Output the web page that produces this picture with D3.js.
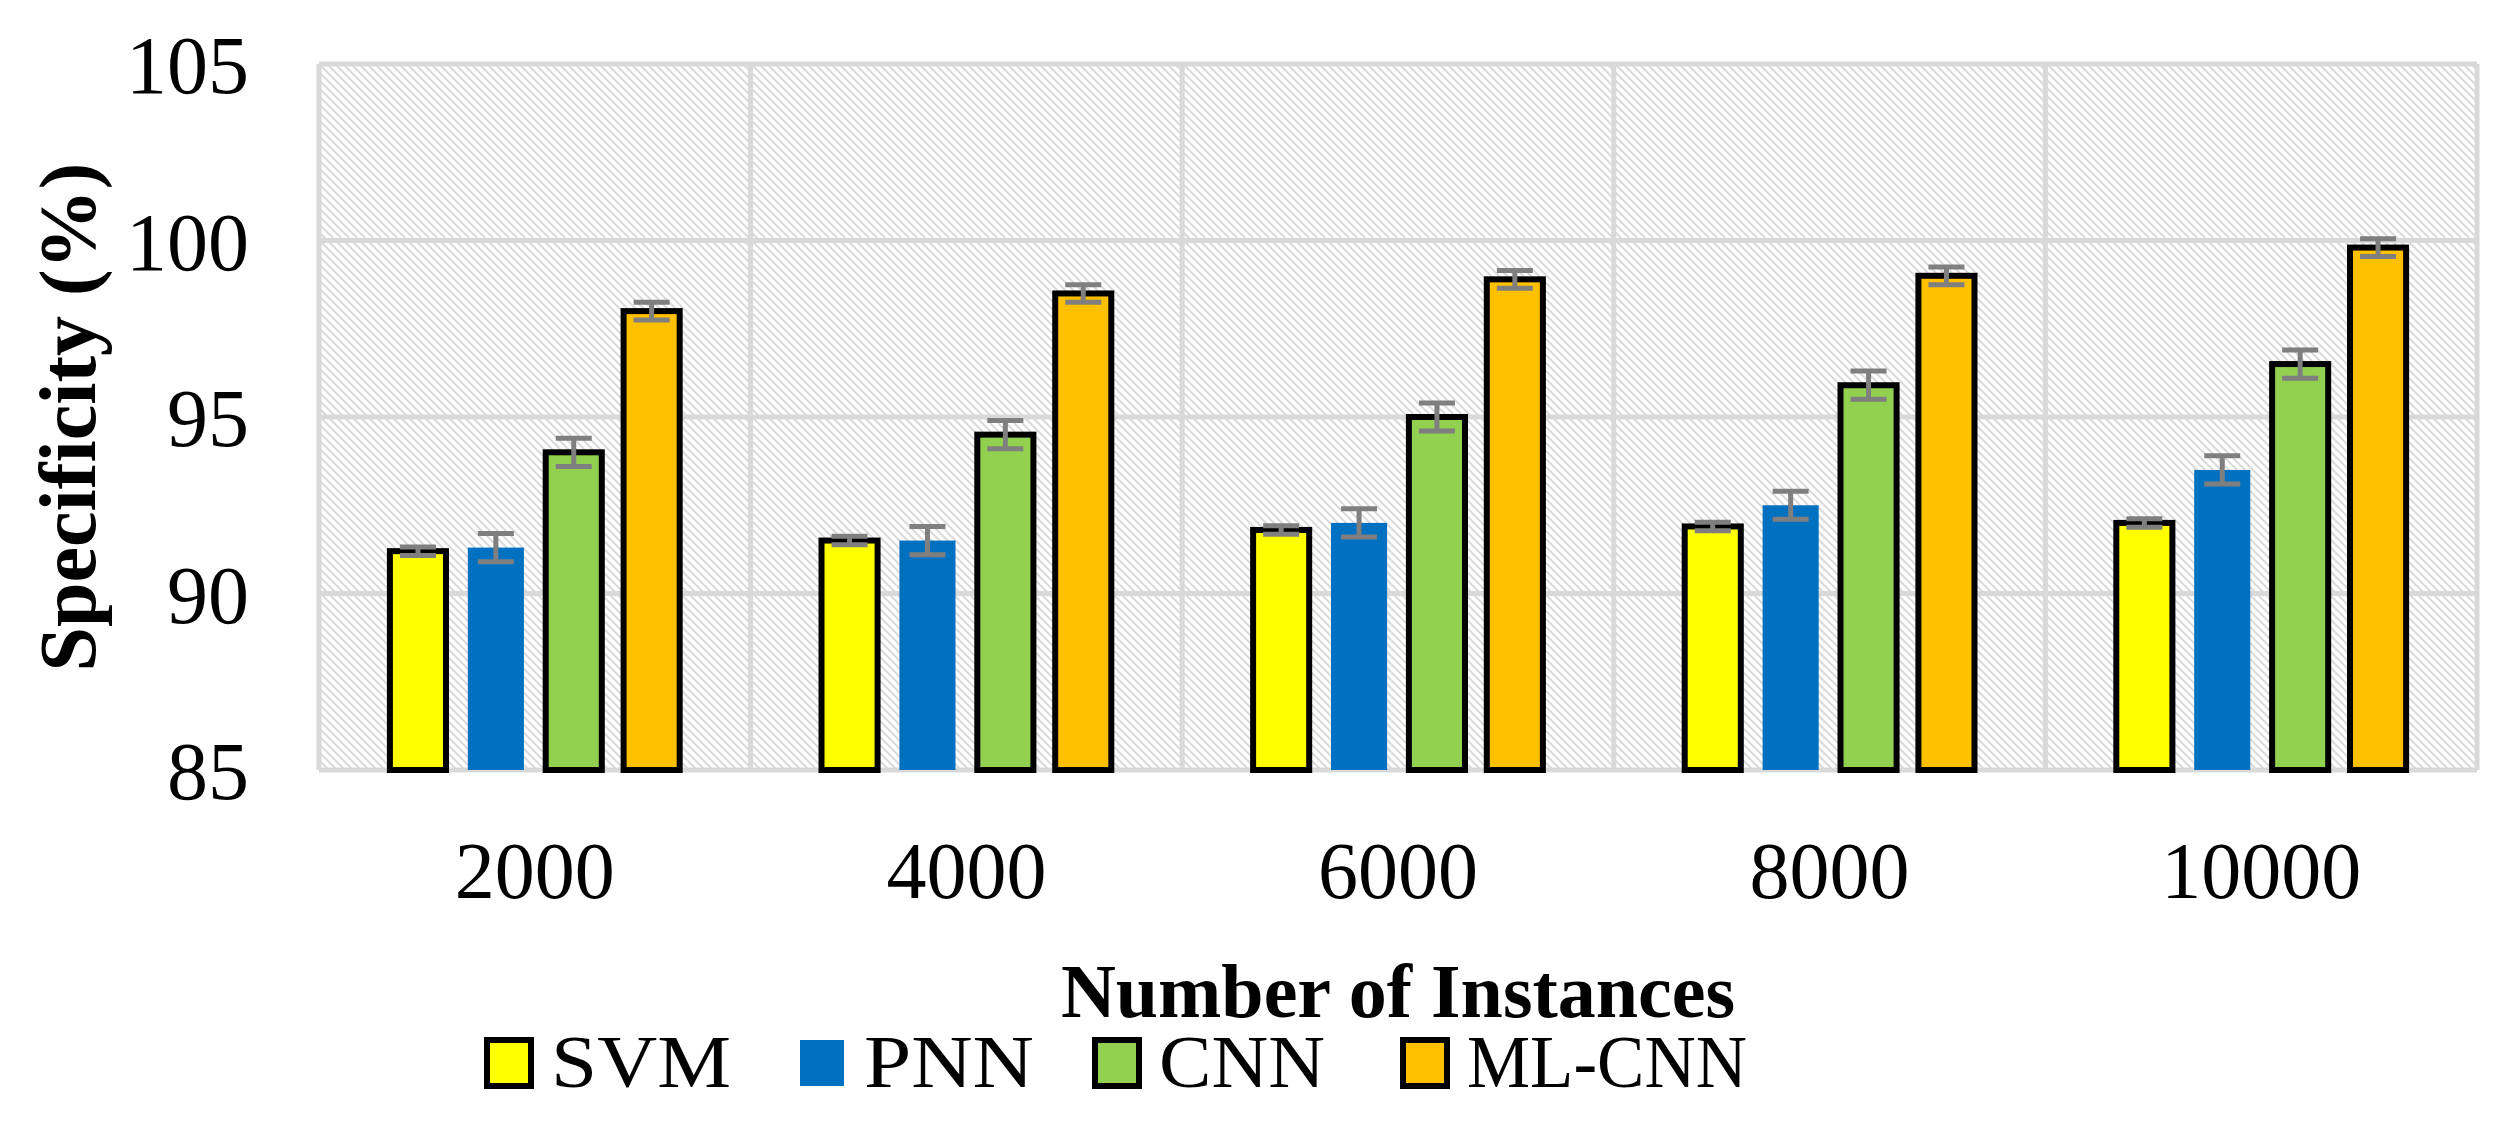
<!DOCTYPE html>
<html>
<head>
<meta charset="utf-8">
<script src="https://cdn.jsdelivr.net/npm/d3@7"></script>
<style>
  body { margin: 0; background: #fff; }
  text { font-family: "Liberation Serif", "Times New Roman", serif; }
</style>
</head>
<body>
<div id="graf"></div>
<script>
const categories = ["2000", "4000", "6000", "8000", "10000"]
const series = ["SVM", "PNN", "CNN", "ML-CNN"]
const colors = ["#ffff00", "#0070c0", "#92d050", "#ffc000"]
const outlined = [true, false, true, true]
const svmValues = [91.2, 91.5, 91.8, 91.9, 92.0]
const pnnValues = [91.3, 91.5, 92.0, 92.5, 93.5]
const cnnValues = [94.0, 94.5, 95.0, 95.9, 96.5]
const mlcnnValues = [98.0, 98.5, 98.9, 99.0, 99.8]
const errors = [0.12, 0.4, 0.4, 0.25]
const yTicks = [85, 90, 95, 100, 105]

const values = [svmValues, pnnValues, cnnValues, mlcnnValues]

const margins = { top: 64, right: 37, bottom: 352, left: 319 }
const anchoTotal = 2514
const altoTotal = 1122
const ancho = anchoTotal - margins.left - margins.right
const alto = altoTotal - margins.top - margins.bottom

const svg = d3.select("#graf").append("svg")
  .attr("width", anchoTotal).attr("height", altoTotal)

const pat = svg.append("defs").append("pattern")
  .attr("id", "hatch").attr("patternUnits", "userSpaceOnUse")
  .attr("width", 8).attr("height", 8)
pat.append("rect").attr("width", 8).attr("height", 8).attr("fill", "#fff")
pat.append("path").attr("d", "M-2,-2 L10,10 M-2,6 L2,10 M6,-2 L10,2")
  .attr("stroke", "#dadada").attr("stroke-width", 2)

const g = svg.append("g").attr("transform", `translate(${margins.left}, ${margins.top})`)

const x0 = d3.scaleBand().domain(categories).range([0, ancho])
const x1 = d3.scaleBand().domain(series).range([60, x0.bandwidth() - 60])
  .paddingInner(0.28).paddingOuter(0.14)
const y = d3.scaleLinear().domain([85, 105]).range([alto, 0])

g.append("rect").attr("width", ancho).attr("height", alto).attr("fill", "url(#hatch)")

// grid
g.selectAll(".hg").data(yTicks).enter().append("line")
  .attr("x1", 0).attr("x2", ancho)
  .attr("y1", d => y(d)).attr("y2", d => y(d))
  .attr("stroke", "#d9d9d9").attr("stroke-width", 5)
g.selectAll(".vg").data(d3.range(categories.length + 1)).enter().append("line")
  .attr("x1", d => d * x0.step()).attr("x2", d => d * x0.step())
  .attr("y1", 0).attr("y2", alto)
  .attr("stroke", "#d9d9d9").attr("stroke-width", 5)

const groups = g.selectAll(".grp").data(categories).enter().append("g")
  .attr("transform", d => `translate(${x0(d)},0)`)

series.forEach((s, si) => {
  groups.append("rect")
    .attr("x", x1(s))
    .attr("width", x1.bandwidth())
    .attr("y", (d, i) => y(values[si][i]))
    .attr("height", (d, i) => alto - y(values[si][i]))
    .attr("fill", colors[si])
    .attr("stroke", outlined[si] ? "#000" : "none")
    .attr("stroke-width", 6)
  const cx = x1(s) + x1.bandwidth() / 2
  const eb = groups.append("g").attr("stroke", "#7f7f7f").attr("stroke-width", 5)
  eb.append("line").attr("x1", cx).attr("x2", cx)
    .attr("y1", (d, i) => y(values[si][i] + errors[si]))
    .attr("y2", (d, i) => y(values[si][i] - errors[si]))
  ;[1, -1].forEach(sg => {
    eb.append("line").attr("x1", cx - 18).attr("x2", cx + 18)
      .attr("y1", (d, i) => y(values[si][i] + sg * errors[si]))
      .attr("y2", (d, i) => y(values[si][i] + sg * errors[si]))
  })
})

// axes
const yAxis = g.append("g").call(d3.axisLeft(y).tickValues(yTicks).tickSize(0).tickPadding(70))
yAxis.select(".domain").remove()
yAxis.selectAll("text").attr("font-size", 82).attr("font-family", "Liberation Serif").attr("dy", "0.35em")

const xAxis = g.append("g").attr("transform", `translate(0,${alto})`)
  .call(d3.axisBottom(x0).tickSize(0).tickPadding(70))
xAxis.select(".domain").remove()
xAxis.selectAll("text").attr("font-size", 80).attr("font-family", "Liberation Serif").attr("dy", "0.72em")

svg.append("text")
  .attr("transform", `translate(95, ${margins.top + alto / 2}) rotate(-90)`)
  .attr("text-anchor", "middle").attr("font-size", 80).attr("font-weight", "bold")
  .text("Specificity (%)")

svg.append("text")
  .attr("x", margins.left + ancho / 2).attr("y", 1017)
  .attr("text-anchor", "middle").attr("font-size", 76).attr("font-weight", "bold")
  .text("Number of Instances")

const legX = [487, 800, 1095, 1403]
const leg = svg.selectAll(".leg").data(series).enter().append("g")
  .attr("transform", (d, i) => `translate(${legX[i]}, 1040)`)
leg.append("rect").attr("width", 44).attr("height", 46)
  .attr("fill", (d, i) => colors[i])
  .attr("stroke", (d, i) => outlined[i] ? "#000" : "none").attr("stroke-width", 6)
leg.append("text").attr("x", 64).attr("y", 47).attr("font-size", 74)
  .attr("textLength", (d, i) => [180, 170, 166, 280][i]).attr("lengthAdjust", "spacingAndGlyphs")
  .text(d => d)
</script>
</body>
</html>
